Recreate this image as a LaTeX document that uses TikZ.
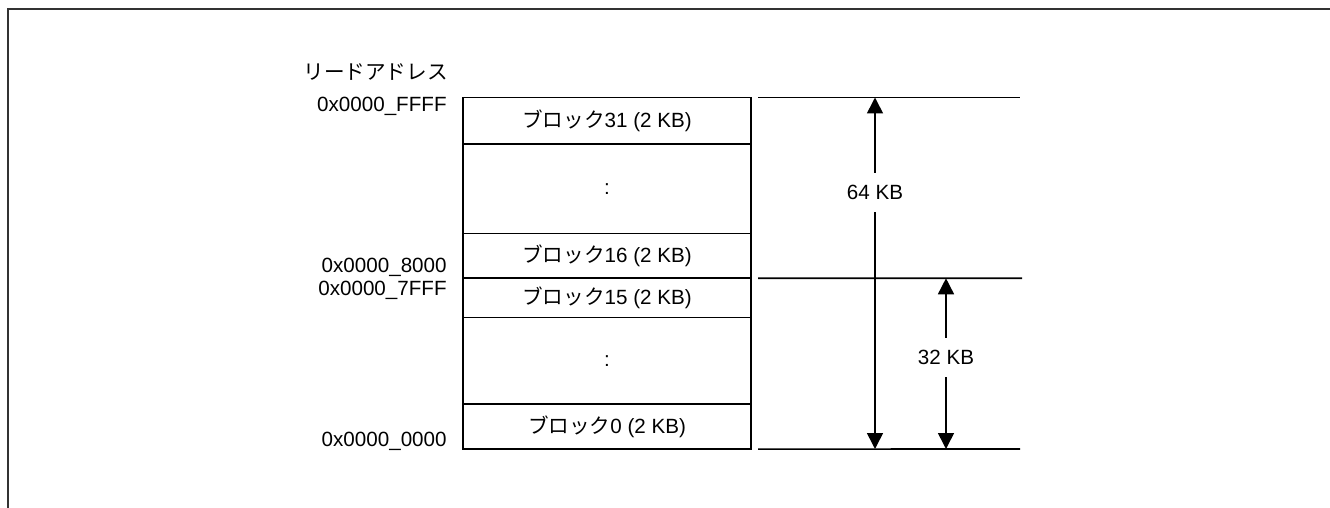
\documentclass[tikz,border=0pt]{standalone}
\usepackage{fontspec}
\setmainfont{Liberation Sans}
\newfontfamily\jpfont{Noto Sans CJK JP}
\usepackage{tikz}
\usetikzlibrary{arrows.meta,positioning}
\usepackage{xcolor}
\definecolor{mapline}{HTML}{000000}
\definecolor{framegray}{HTML}{333333}

\begin{document}
\begin{tikzpicture}[
    x=0.5pt, y=-0.5pt,
    font=\fontsize{10.3}{12}\selectfont,
    cell/.style={rectangle, draw=mapline, line width=0.8pt, outer sep=0pt,
                 minimum width=144pt, inner sep=0pt, align=center},
    addr/.style={inner sep=0pt, anchor=east},
    guide/.style={draw=mapline, line width=0.8pt},
    dim/.style={{Triangle[length=8pt,width=8pt]}-{Triangle[length=8pt,width=8pt]},
                line width=0.8pt, mapline},
    lbl/.style={fill=white, inner xsep=2pt, inner ysep=6pt}
]
\useasboundingbox (0,0) rectangle (1330,508);
\draw[framegray, line width=1pt] (1330,9) -- (8,9) -- (8,508);

\node[cell, minimum height=23.4pt, anchor=north] (b31) at (607,97.5) {{\jpfont ブロック}31 (2 KB)};
\node[cell, minimum height=44.7pt, below=0pt of b31] (dots1) {:};
\node[cell, minimum height=22.3pt, below=0pt of dots1] (b16) {{\jpfont ブロック}16 (2 KB)};
\node[cell, minimum height=19.7pt, below=0pt of b16] (b15) {{\jpfont ブロック}15 (2 KB)};
\node[cell, minimum height=43.2pt, below=0pt of b15] (dots2) {:};
\node[cell, minimum height=22.5pt, below=0pt of dots2] (b0) {{\jpfont ブロック}0 (2 KB)};

\node[addr] (title) at (448,72) {\jpfont リードアドレス};
\node[addr, left=8pt of b31.north west, yshift=-4.5pt] (aFFFF) {0x0000\_FFFF};
\node[addr, left=8pt of b16.south west, yshift=5.5pt] (a8000) {0x0000\_8000};
\node[addr, left=8pt of b15.north west, yshift=-6pt] (a7FFF) {0x0000\_7FFF};
\node[addr, left=8pt of b0.south west, yshift=4pt] (a0000) {0x0000\_0000};

\coordinate[right=3.5pt of b31.north east] (topL);
\coordinate (topR) at (1020,97.5);
\coordinate[right=3.5pt of b16.south east] (midL);
\coordinate (midR) at (1022,278.3);
\coordinate[right=3.5pt of b0.south east] (botL);
\coordinate (botR) at (1020,449);
\draw[guide] (topL) -- (topR);
\draw[guide] (midL) -- (midR);
\draw[guide] (botL) -- (botR);

\coordinate (s64b) at (875,449);
\coordinate (s64t) at (875,97.5);
\coordinate (s32b) at (946,449);
\coordinate (s32t) at (946,278.3);
\draw[dim] (s64b) -- node[lbl, pos=0.73] (k64) {64 KB} (s64t);
\draw[dim] (s32b) -- node[lbl, pos=0.535] (k32) {32 KB} (s32t);

\end{tikzpicture}
\end{document}
